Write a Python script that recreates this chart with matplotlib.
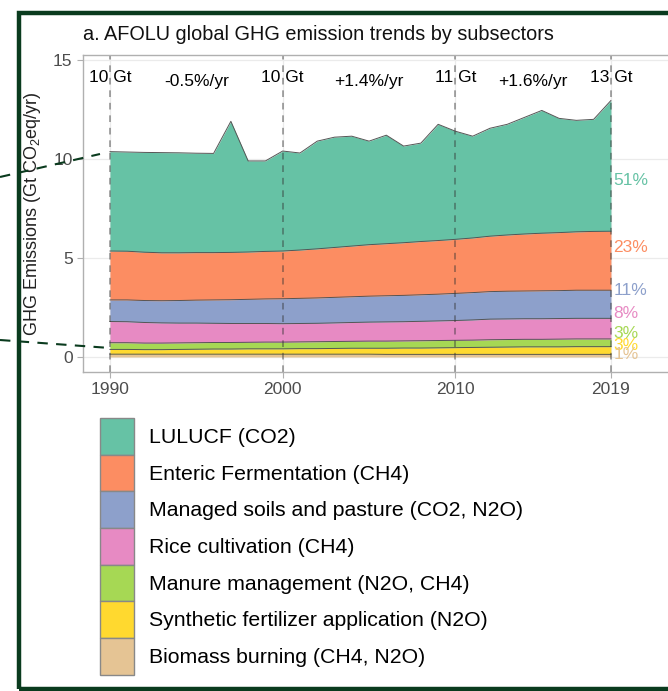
import numpy as np
import matplotlib
matplotlib.use("Agg")
import matplotlib.pyplot as plt
from matplotlib.patches import Patch, Rectangle
from matplotlib.lines import Line2D

plt.rcParams['font.family'] = ['Liberation Sans', 'DejaVu Sans']
plt.rcParams['mathtext.default'] = 'regular'

# AFOLU emissions by subsector, Gt CO2eq/yr, 1990-2019
years = list(range(1990, 2020))

lulucf = [5.02, 5.01, 5.04, 5.06, 5.05, 5.02, 5.01, 6.62, 4.60, 4.57,
          5.05, 4.90, 5.44, 5.57, 5.55, 5.23, 5.48, 4.88, 4.97, 5.87,
          5.46, 5.14, 5.45, 5.59, 5.89, 6.20, 5.77, 5.63, 5.66, 6.60]
enteric = [2.47, 2.46, 2.44, 2.42, 2.41, 2.40, 2.39, 2.39, 2.39, 2.40,
           2.41, 2.44, 2.48, 2.52, 2.56, 2.60, 2.63, 2.66, 2.69, 2.71,
           2.73, 2.76, 2.80, 2.84, 2.88, 2.91, 2.93, 2.95, 2.97, 2.98]
soils = [1.09, 1.10, 1.11, 1.12, 1.14, 1.16, 1.18, 1.20, 1.22, 1.24,
         1.26, 1.27, 1.28, 1.29, 1.30, 1.31, 1.32, 1.33, 1.34, 1.35,
         1.37, 1.38, 1.39, 1.40, 1.40, 1.41, 1.41, 1.42, 1.42, 1.42]
rice = [1.07, 1.06, 1.04, 1.02, 1.00, 0.99, 0.97, 0.96, 0.95, 0.94,
        0.93, 0.93, 0.93, 0.94, 0.95, 0.96, 0.97, 0.97, 0.98, 0.99,
        1.00, 1.02, 1.04, 1.04, 1.04, 1.04, 1.04, 1.04, 1.04, 1.04]
manure = [0.34, 0.34, 0.33, 0.33, 0.33, 0.33, 0.33, 0.33, 0.33, 0.34,
          0.34, 0.34, 0.35, 0.35, 0.35, 0.36, 0.36, 0.36, 0.37, 0.37,
          0.37, 0.37, 0.38, 0.38, 0.38, 0.38, 0.39, 0.39, 0.39, 0.39]
fertilizer = [0.24, 0.24, 0.23, 0.23, 0.24, 0.25, 0.26, 0.26, 0.27, 0.27,
              0.27, 0.28, 0.28, 0.29, 0.30, 0.30, 0.31, 0.32, 0.32, 0.33,
              0.34, 0.35, 0.36, 0.37, 0.38, 0.38, 0.38, 0.39, 0.39, 0.39]
biomass = [0.14, 0.14, 0.14, 0.14, 0.14, 0.14, 0.14, 0.14, 0.14, 0.14,
           0.14, 0.14, 0.14, 0.14, 0.14, 0.14, 0.13, 0.13, 0.13, 0.13,
           0.13, 0.13, 0.13, 0.13, 0.13, 0.13, 0.13, 0.13, 0.13, 0.13]

labels = ["LULUCF (CO2)", "Enteric Fermentation (CH4)",
          "Managed soils and pasture (CO2, N2O)", "Rice cultivation (CH4)",
          "Manure management (N2O, CH4)", "Synthetic fertilizer application (N2O)",
          "Biomass burning (CH4, N2O)"]
colors = ["#66c2a5", "#fc8d62", "#8da0cb", "#e78ac3", "#a6d854", "#ffd92f", "#e5c494"]

marker_years = [1990, 2000, 2010, 2019]
rate_labels = ["-0.5%/yr", "+1.4%/yr", "+1.6%/yr"]
# where the share labels sit on the right edge
share_label_y = [8.9, 5.55, 3.38, 2.2, 1.2, 0.6, 0.1]

W, H = 668, 691
fig = plt.figure(figsize=(W / 100, H / 100), dpi=100)
ax = fig.add_axes([83 / W, 1 - 372 / H, 597 / W, 317 / H])

# stack from the bottom layer up
series = [lulucf, enteric, soils, rice, manure, fertilizer, biomass]
x = np.array(years)
base = np.zeros(len(years))
for vals, col in zip(series[::-1], colors[::-1]):
    top = base + np.array(vals)
    ax.fill_between(x, base, top, color=col, lw=0)
    ax.plot(x, top, color="#555555", lw=0.7)
    base = top
total = base

for yr in marker_years:
    ax.axvline(yr, color="#333333", alpha=0.5, lw=1.2, ls=(0, (4, 3.5)))
    t = total[years.index(yr)]
    ax.text(yr, 14.1, "%d Gt" % round(t), ha="center", va="center", fontsize=12.5)

for i, lab in enumerate(rate_labels):
    xm = (marker_years[i] + marker_years[i + 1]) / 2
    ax.text(xm, 13.9, lab, ha="center", va="center", fontsize=12.5)

last = [s[-1] for s in series]
for vals, col, yy in zip(last, colors, share_label_y):
    pct = 100 * vals / total[-1]
    ax.text(2019.15, yy, "%d%%" % round(pct), color=col, ha="left", va="center",
            fontsize=12.5)

ax.set_xlim(1988.44, 2023.0)
ax.set_ylim(-0.76, 15.25)
ax.set_xticks(marker_years)
ax.set_yticks([0, 5, 10, 15])
ax.grid(color="#ebebeb", lw=0.9)
ax.set_axisbelow(True)
for sp in ax.spines.values():
    sp.set_color("#b0b0b0")
    sp.set_linewidth(1.0)
ax.tick_params(colors="#b0b0b0", labelcolor="#4d4d4d", labelsize=12.5, length=4)
ax.set_ylabel("GHG Emissions (Gt CO$_2$eq/yr)", fontsize=13, color="#222222",
              labelpad=7)

fig.text(83 / W, 1 - 35 / H, "a. AFOLU global GHG emission trends by subsectors",
         fontsize=14.3, va="center", ha="left", color="#111111")

# swatches stacked edge to edge, ~37 px per row
handles = [Patch(facecolor=c, edgecolor="#888888", lw=1) for c in colors]
fig.legend(handles, labels, loc="upper left", bbox_to_anchor=(100 / W, 1 - 418 / H),
           frameon=False, fontsize=15.3, handlelength=1.6, handleheight=2.28,
           labelspacing=0.0, handletextpad=0.72, borderpad=0, borderaxespad=0)

# dark green outer frame and connector lines
green = "#0a3b1e"
fig.add_artist(Rectangle((18.5 / W, 1 - 689 / H), 1.1, (689 - 12.5) / H,
                         transform=fig.transFigure, fill=False, ec=green, lw=3.2))
fig.add_artist(Line2D([0, 100 / W], [1 - 177 / H, 1 - 154 / H], transform=fig.transFigure,
                      color=green, lw=1.5, ls=(0, (5, 4))))
fig.add_artist(Line2D([0, 110 / W], [1 - 340 / H, 1 - 348 / H], transform=fig.transFigure,
                      color=green, lw=1.5, ls=(0, (5, 4))))

fig.savefig("out.png", dpi=100)
